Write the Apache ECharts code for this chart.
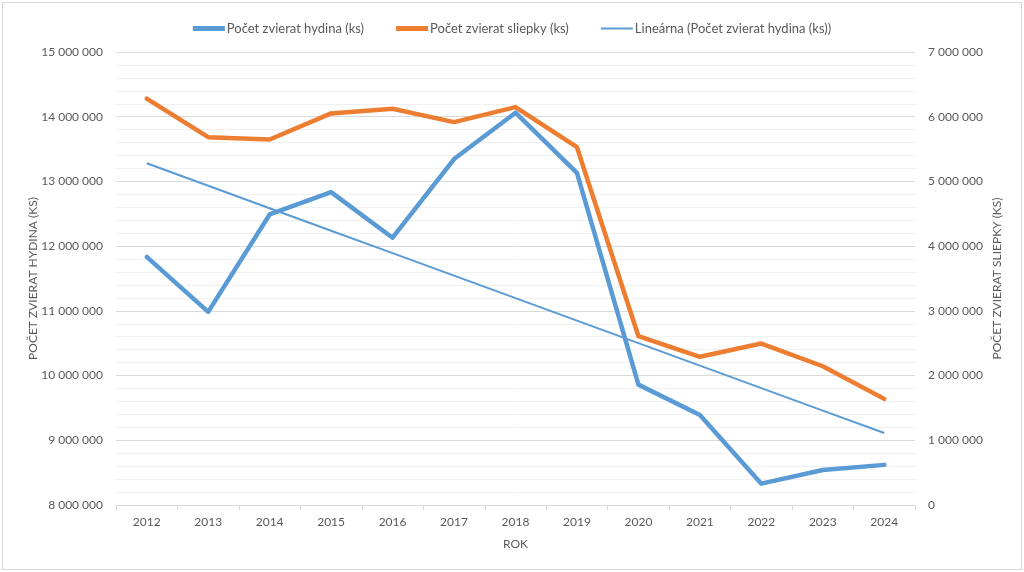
<!DOCTYPE html>
<html>
<head>
<meta charset="utf-8">
<script src="https://cdn.jsdelivr.net/npm/echarts@6/dist/echarts.min.js"></script>
<style>
html,body{margin:0;padding:0;background:#fff;}
#frame{position:absolute;left:2px;top:2px;width:1018px;height:566px;border:1px solid #d9d9d9;}
#chart{position:absolute;left:0;top:0;width:1024px;height:572px;}
</style>
</head>
<body>
<div id="frame"></div>
<div id="chart"></div>
<script>
const years = ['2012','2013','2014','2015','2016','2017','2018','2019','2020','2021','2022','2023','2024'];
const hydina = [11834000, 10985000, 12490000, 12834000, 12130000, 13346000, 14062000, 13133000, 9860000, 9390000, 8330000, 8540000, 8620000];
const sliepky = [6279000, 5684000, 5648000, 6051000, 6124000, 5917000, 6149000, 5529000, 2608000, 2290000, 2495000, 2144000, 1640000];
const seriesNames = ['Počet zvierat hydina (ks)', 'Počet zvierat sliepky (ks)', 'Lineárna (Počet zvierat hydina (ks))'];
const axisNames = {left: 'POČET ZVIERAT HYDINA (KS)', right: 'POČET ZVIERAT SLIEPKY (KS)', x: 'ROK'};

// least-squares linear trendline of hydina
const n = hydina.length;
const xm = (n - 1) / 2;
const ym = hydina.reduce((a, b) => a + b, 0) / n;
let sxy = 0, sxx = 0;
hydina.forEach((v, i) => { sxy += (i - xm) * (v - ym); sxx += (i - xm) * (i - xm); });
const slope = sxy / sxx;
const trend = hydina.map((v, i) => ym + slope * (i - xm));

function fmt(v) { return String(Math.round(v)).replace(/\B(?=(\d{3})+(?!\d))/g, ' '); }

const font = 'Lato, "Liberation Sans", sans-serif';
const txt = '#595959';
const thickIcon = 'path://M0,0H32V5H0Z';
const thinIcon = 'path://M0,0H32V2H0Z';
const chart = echarts.init(document.getElementById('chart'), null, {renderer: 'canvas'});
chart.setOption({
  animation: false,
  textStyle: {fontFamily: font},
  legend: {
    top: 17, left: 'center',
    itemWidth: 32, itemHeight: 12, itemGap: 32,
    symbolKeepAspect: true,
    textStyle: {color: txt, fontSize: 13, fontFamily: font, padding: [0, 0, 0, -3]},
    data: [
      {name: seriesNames[0], icon: thickIcon, itemStyle: {color: '#5B9BD5'}},
      {name: seriesNames[1], icon: thickIcon, itemStyle: {color: '#ED7D31'}},
      {name: seriesNames[2], icon: thinIcon, itemStyle: {color: '#5B9BD5'}}
    ]
  },
  grid: {left: 116, right: 109, top: 52, bottom: 67},
  xAxis: {
    type: 'category', data: years, boundaryGap: true,
    name: axisNames.x, nameLocation: 'middle', nameGap: 33,
    nameTextStyle: {color: txt, fontSize: 12, fontFamily: font},
    axisLine: {lineStyle: {color: '#d9d9d9', width: 1}},
    axisTick: {show: true, length: 5, lineStyle: {color: '#d9d9d9'}},
    axisLabel: {color: txt, fontSize: 12, margin: 11, fontFamily: font},
    splitLine: {show: false}
  },
  yAxis: [{
    type: 'value', min: 8000000, max: 15000000, interval: 1000000,
    name: axisNames.left, nameLocation: 'middle', nameGap: 77, nameMoveOverlap: false,
    nameTextStyle: {color: txt, fontSize: 12, fontFamily: font},
    axisLine: {show: false}, axisTick: {show: false},
    axisLabel: {color: txt, fontSize: 12, margin: 13, formatter: fmt, fontFamily: font},
    splitLine: {show: true, lineStyle: {color: '#d9d9d9', width: 1}},
    minorTick: {show: false, splitNumber: 5},
    minorSplitLine: {show: true, lineStyle: {color: '#f0f0f0', width: 1}}
  }, {
    type: 'value', min: 0, max: 7000000, interval: 1000000, position: 'right',
    name: axisNames.right, nameLocation: 'middle', nameGap: 76, nameMoveOverlap: false,
    nameTextStyle: {color: txt, fontSize: 12, fontFamily: font},
    axisLine: {show: false}, axisTick: {show: false},
    axisLabel: {color: txt, fontSize: 12, margin: 13, formatter: fmt, fontFamily: font},
    splitLine: {show: false}
  }],
  series: [{
    name: seriesNames[0], type: 'line', data: hydina, yAxisIndex: 0,
    symbol: 'none', color: '#5B9BD5',
    lineStyle: {width: 4.5, color: '#5B9BD5', cap: 'round', join: 'round'}, z: 3
  }, {
    name: seriesNames[1], type: 'line', data: sliepky, yAxisIndex: 1,
    symbol: 'none', color: '#ED7D31',
    lineStyle: {width: 4.5, color: '#ED7D31', cap: 'round', join: 'round'}, z: 4
  }, {
    name: seriesNames[2], type: 'line', data: trend, yAxisIndex: 0,
    symbol: 'none', color: '#5B9BD5',
    lineStyle: {width: 2, color: '#5B9BD5'}, z: 5
  }]
});
</script>
</body>
</html>
